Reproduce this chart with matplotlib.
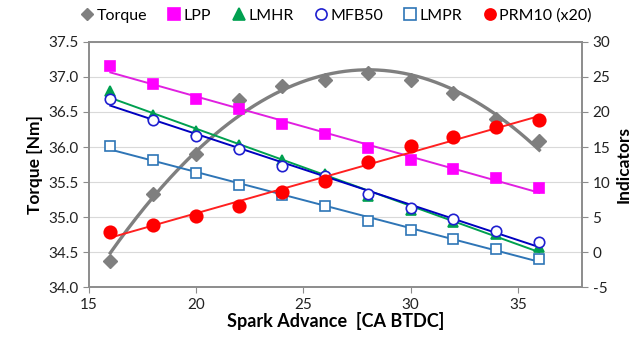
import matplotlib.pyplot as plt
import numpy as np

plt.rcParams['font.family'] = ['Lato', 'DejaVu Sans']
plt.rcParams['axes.unicode_minus'] = False

# Avance de chispa [CA BTDC]
spark = [16, 18, 20, 22, 24, 26, 28, 30, 32, 34, 36]

# Par [Nm] (eje izquierdo)
torque = [34.38, 35.33, 35.90, 36.67, 36.87, 36.95, 37.06, 36.95, 36.77, 36.40, 36.08]

# Indicadores (eje derecho)
lpp = [26.6, 24.0, 21.9, 20.4, 18.3, 16.8, 14.9, 13.2, 11.9, 10.6, 9.1]
lmhr = [23.0, 19.6, 17.3, 15.3, 13.2, 11.1, 8.0, 6.0, 4.3, 2.6, 0.7]
mfb50 = [21.9, 18.8, 16.6, 14.7, 12.3, 10.9, 8.3, 6.3, 4.7, 3.0, 1.4]
lmpr = [15.1, 13.2, 11.3, 9.6, 8.1, 6.6, 4.5, 3.2, 1.9, 0.4, -1.0]
prm10 = [2.8, 3.9, 5.1, 6.6, 8.6, 10.2, 12.8, 15.1, 16.5, 17.8, 18.8]

fig = plt.figure(figsize=(6.44, 3.41), dpi=100)
ax = fig.add_axes([0.138, 0.158, 0.766, 0.719])
ax2 = ax.twinx()

x = np.array(spark)
xs = np.linspace(16, 36, 200)

# Par con linea de tendencia polinomica
c = np.polyfit(x, torque, 2)
ax.plot(xs, np.polyval(c, xs), color='#7f7f7f', lw=2.4, zorder=2)
ax.plot(x, torque, 'D', color='#7f7f7f', ms=7, zorder=3)

series = [
    (lpp, 's', '#ff00ff', '#ff00ff', 'LPP'),
    (lmhr, '^', '#00a050', '#00a050', 'LMHR'),
    (mfb50, 'o', 'white', '#1f1fd0', 'MFB50'),
    (lmpr, 's', 'white', '#2e75b6', 'LMPR'),
    (prm10, 'o', '#ff0000', '#ff0000', 'PRM10 (x20)'),
]
line_colors = {'LPP': '#e020e0', 'LMHR': '#00a050', 'MFB50': '#0000c0',
               'LMPR': '#2e75b6', 'PRM10 (x20)': '#ff2020'}

for vals, m, fc, ec, name in series:
    k = np.polyfit(x, vals, 1)
    ax2.plot(xs, np.polyval(k, xs), color=line_colors[name], lw=1.4)
    ax2.plot(x, vals, m, mfc=fc, mec=ec, mew=1.2, ms=7.5 if fc == 'white' or m != 'o' else 9)

# Ejes
ax.set_xlim(15, 38)
ax.set_ylim(34.0, 37.5)
ax.set_yticks(np.arange(34.0, 37.51, 0.5))
ax.set_yticklabels(['%.1f' % v for v in np.arange(34.0, 37.51, 0.5)])
ax.set_xticks([15, 20, 25, 30, 35])
ax2.set_ylim(-5, 30)
ax2.set_yticks(range(-5, 31, 5))

ax.grid(axis='y', color='#d9d9d9', lw=0.8)
ax.set_axisbelow(True)
for a in (ax, ax2):
    for s in a.spines.values():
        s.set_color('#8c8c8c')
        s.set_linewidth(1.2)
    a.tick_params(colors='#8c8c8c', labelcolor='#222222', labelsize=11, length=4)

ax.set_xlabel('Spark Advance  [CA BTDC]', fontsize=13, fontweight='bold', labelpad=0)
ax.set_ylabel('Torque [Nm]', fontsize=12.5, fontweight='bold')
ax2.set_ylabel('Indicators', fontsize=12.5, fontweight='bold')

# Leyenda
handles = [plt.Line2D([], [], ls='', marker='D', color='#7f7f7f', ms=6)]
for vals, m, fc, ec, name in series:
    handles.append(plt.Line2D([], [], ls='', marker=m, mfc=fc, mec=ec, mew=1.2, ms=8))
labels = ['Torque'] + [s[4] for s in series]
fig.legend(handles, labels, loc='center', bbox_to_anchor=(0.521, 0.955), ncol=6,
           frameon=False, fontsize=11.5, handletextpad=0.1, columnspacing=1.2,
           handlelength=1.0)

fig.savefig('out.png', dpi=100)
